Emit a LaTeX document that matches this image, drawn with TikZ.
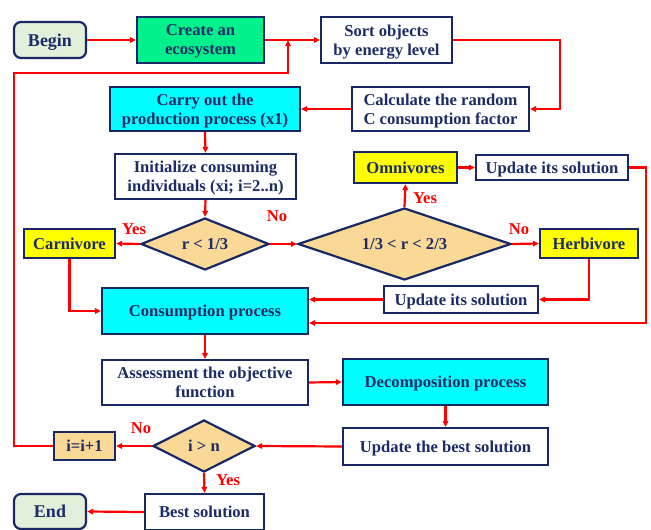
\documentclass[tikz,border=0pt]{standalone}
\usepackage{fontspec}
\setmainfont{Liberation Serif}
\usetikzlibrary{shapes.geometric,arrows.meta}
\definecolor{navy}{RGB}{28,44,102}
\definecolor{bordc}{RGB}{24,40,100}
\definecolor{startfill}{RGB}{226,239,218}
\definecolor{greenfill}{RGB}{0,240,140}
\definecolor{cyanfill}{RGB}{0,255,255}
\definecolor{yellowfill}{RGB}{255,255,0}
\definecolor{decfill}{RGB}{250,217,150}
\definecolor{linered}{RGB}{255,0,0}
\begin{document}
\begin{tikzpicture}[x=1pt,y=-1pt,
  base/.style={draw=bordc, line width=2.2pt, text=navy, align=center, inner sep=0pt,
    text depth=0pt, font=\fontsize{16.6}{19}\selectfont\bfseries},
  box/.style={base, fill=white, rectangle},
  term/.style={base, fill=startfill, rounded corners=7pt, font=\fontsize{18}{20}\selectfont\bfseries},
  greenbox/.style={box, fill=greenfill},
  cyanbox/.style={box, fill=cyanfill},
  yelbox/.style={box, fill=yellowfill},
  decbox/.style={box, fill=decfill},
  dec/.style={base, fill=decfill, diamond, aspect=3},
  conn/.style={draw=linered, line width=2.2pt, -{Triangle[length=6pt,width=5.5pt]}},
  lab/.style={text=linered, font=\fontsize{16.6}{18}\selectfont\bfseries, inner sep=0pt}
]
\useasboundingbox (0,0) rectangle (651,530);

% nodes
\node[term, minimum width=72, minimum height=36] (begin) at (50,40) {Begin};
\node[greenbox, minimum width=127, minimum height=46] (create) at (200.5,40) {Create an\\ecosystem};
\node[box, minimum width=131, minimum height=46] (sort) at (386.5,40) {Sort objects\\by energy level};
\node[box, minimum width=177, minimum height=44] (calc) at (440.5,109) {Calculate the random\\C consumption factor};
\node[cyanbox, minimum width=190, minimum height=44] (carry) at (205,109) {Carry out the\\production process (x1)};
\node[box, minimum width=181, minimum height=45] (init) at (205.5,176.5) {Initialize consuming\\individuals (xi; i=2..n)};
\node[dec, minimum width=128, minimum height=52] (d1) at (205,244) {r < 1/3};
\node[yelbox, minimum width=91, minimum height=29] (carn) at (69.5,243.5) {Carnivore};
\node[dec, minimum width=213, minimum height=72] (d2) at (404.5,244) {1/3 < r < 2/3};
\node[yelbox, minimum width=103, minimum height=31] (omni) at (405.5,167.5) {Omnivores};
\node[box, minimum width=152, minimum height=25] (updtop) at (552,167.5) {Update its solution};
\node[yelbox, minimum width=98, minimum height=29] (herb) at (589,243.5) {Herbivore};
\node[box, minimum width=154, minimum height=27] (updmid) at (461,299.5) {Update its solution};
\node[cyanbox, minimum width=206, minimum height=46] (cons) at (205,311) {Consumption process};
\node[box, minimum width=206, minimum height=45] (assess) at (205,382.5) {Assessment the objective\\function};
\node[cyanbox, minimum width=205, minimum height=46] (decomp) at (445.5,382) {Decomposition process};
\node[box, minimum width=205, minimum height=37] (updbest) at (445.5,446.5) {Update the best solution};
\node[dec, minimum width=102, minimum height=52] (d3) at (204,446) {i > n};
\node[decbox, minimum width=61, minimum height=28] (inc) at (84.5,446) {i=i+1};
\node[box, minimum width=119, minimum height=36] (best) at (204.5,512) {Best solution};
\node[term, minimum width=72, minimum height=35] (end) at (50,511.5) {End};

% connectors
\coordinate (join) at (288,40);
\draw[conn] (begin.east) -- (create.west);
\draw[conn] (create.east) -- (sort.west);
\draw[conn] (inc.west) -- (14,446) -- (14,73) -- (288,73) -- (join);
\draw[conn] (sort.east) -- (560,40) |- (calc.east);
\draw[conn] (calc.west) -- (carry.east);
\draw[conn] (carry.south) -- (init.north);
\draw[conn] (init.south) -- (d1.north);
\draw[conn] (d1.west) -- (carn.east);
\draw[conn] (d1.east) -- (d2.west);
\draw[conn] (d2.north) -- (omni.south);
\draw[conn] (d2.east) -- (herb.west);
\draw[conn] (omni.east) -- (updtop.west);
\draw[conn] (updtop.east) -- (646,167.5) -- (646,323) -- ([yshift=-12pt]cons.east);
\draw[conn] (herb.south) |- (updmid.east);
\draw[conn] (updmid.west) -- (updmid.west -| cons.east);
\draw[conn] (carn.south) |- (cons.west);
\draw[conn] (cons.south) -- (assess.north);
\draw[conn] (assess.east) -- (decomp.west);
\draw[conn] (decomp.south) -- (updbest.north);
\draw[conn] (updbest.west) -- (d3.east);
\draw[conn] (d3.west) -- (inc.east);
\draw[conn] (d3.south) -- (best.north);
\draw[conn] (best.west) -- (end.east);

% labels
\node[lab] (l1) at (134,229) {Yes};
\node[lab] (l2) at (277,216) {No};
\node[lab] (l3) at (425,198) {Yes};
\node[lab] (l4) at (519,229) {No};
\node[lab] (l5) at (141,428) {No};
\node[lab] (l6) at (228,480) {Yes};
\end{tikzpicture}
\end{document}
